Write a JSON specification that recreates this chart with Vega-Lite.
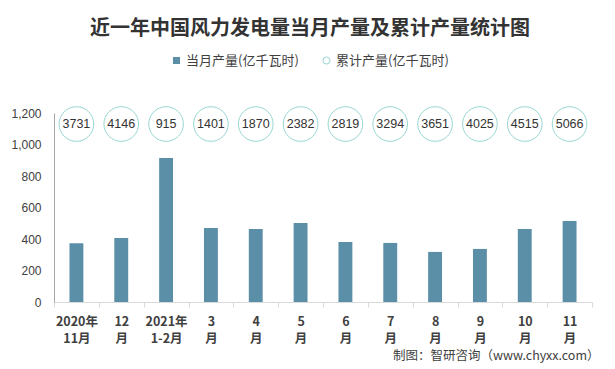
{
  "$schema": "https://vega.github.io/schema/vega-lite/v6.json",
  "autosize": "none",
  "width": 538,
  "height": 189,
  "padding": {"left": 54, "top": 113, "right": 23, "bottom": 67},
  "background": "#ffffff",
  "title": {
    "text": "近一年中国风力发电量当月产量及累计产量统计图",
    "font": "Noto Sans CJK SC",
    "fontSize": 20,
    "fontWeight": "bold",
    "color": "#333333",
    "anchor": "middle",
    "dx": -13,
    "offset": 15
  },
  "data": {
    "values": [
      {"m": "2020年|11月", "v": 373, "c": 3731},
      {"m": "12|月", "v": 406, "c": 4146},
      {"m": "2021年|1-2月", "v": 914, "c": 915},
      {"m": "3|月", "v": 470, "c": 1401},
      {"m": "4|月", "v": 463, "c": 1870},
      {"m": "5|月", "v": 502, "c": 2382},
      {"m": "6|月", "v": 381, "c": 2819},
      {"m": "7|月", "v": 375, "c": 3294},
      {"m": "8|月", "v": 318, "c": 3651},
      {"m": "9|月", "v": 337, "c": 4025},
      {"m": "10|月", "v": 463, "c": 4515},
      {"m": "11|月", "v": 514, "c": 5066}
    ]
  },
  "encoding": {
    "x": {
      "field": "m",
      "type": "nominal",
      "sort": null,
      "scale": {"paddingInner": 0, "paddingOuter": 0},
      "axis": {
        "title": "制图：智研咨询（www.chyxx.com）",
        "titleFont": "Noto Sans CJK SC",
        "titleFontSize": 12.5,
        "titleFontWeight": "normal",
        "titleColor": "#404040",
        "titleAnchor": "end",
        "titleAlign": "right",
        "titleBaseline": "middle",
        "titleX": 545,
        "titleY": 53,
        "labelAngle": 0,
        "labelExpr": "split(datum.label, '|')",
        "labelFont": "Noto Sans CJK SC",
        "labelFontSize": 12.5,
        "labelFontWeight": "bold",
        "labelColor": "#404040",
        "labelLineHeight": 17,
        "labelPadding": 8,
        "domainColor": "#d9d9d9",
        "tickColor": "#d9d9d9",
        "tickSize": 5,
        "tickBand": "extent"
      }
    }
  },
  "layer": [
    {
      "mark": {"type": "bar", "width": {"band": 0.31}},
      "encoding": {
        "y": {
          "field": "v",
          "type": "quantitative",
          "scale": {"domain": [0, 1200], "nice": false},
          "axis": {"title": null}
        },
        "fill": {
          "datum": "当月产量(亿千瓦时)",
          "scale": {"range": ["#5B8FA8"]},
          "legend": {"symbolType": "square", "legendX": 116, "legendY": -59}
        }
      }
    },
    {
      "mark": {"type": "point", "filled": false, "size": 1200, "strokeWidth": 1},
      "encoding": {
        "y": {"datum": 1130},
        "stroke": {
          "datum": "累计产量(亿千瓦时)",
          "scale": {"range": ["#6DC6C0"]},
          "legend": {"symbolType": "circle", "legendX": 266, "legendY": -59, "symbolStrokeWidth": 1}
        }
      }
    },
    {
      "mark": {"type": "text", "font": "Liberation Sans", "fontSize": 12.5, "color": "#333333", "baseline": "middle"},
      "encoding": {
        "y": {"datum": 1130},
        "text": {"field": "c", "type": "quantitative", "format": "d"}
      }
    }
  ],
  "resolve": {"scale": {"y": "shared"}},
  "config": {
    "view": {"stroke": null},
    "axisY": {
      "tickCount": 6,
      "grid": false,
      "ticks": false,
      "labelOverlap": false,
      "domainColor": "#a6a6a6",
      "labelFont": "Liberation Sans",
      "labelFontSize": 12,
      "labelColor": "#404040",
      "labelPadding": 13
    },
    "legend": {
      "orient": "none",
      "direction": "horizontal",
      "title": null,
      "labelFont": "Noto Sans CJK SC",
      "labelFontSize": 13,
      "labelColor": "#404040",
      "symbolSize": 50,
      "labelOffset": 3
    }
  }
}
